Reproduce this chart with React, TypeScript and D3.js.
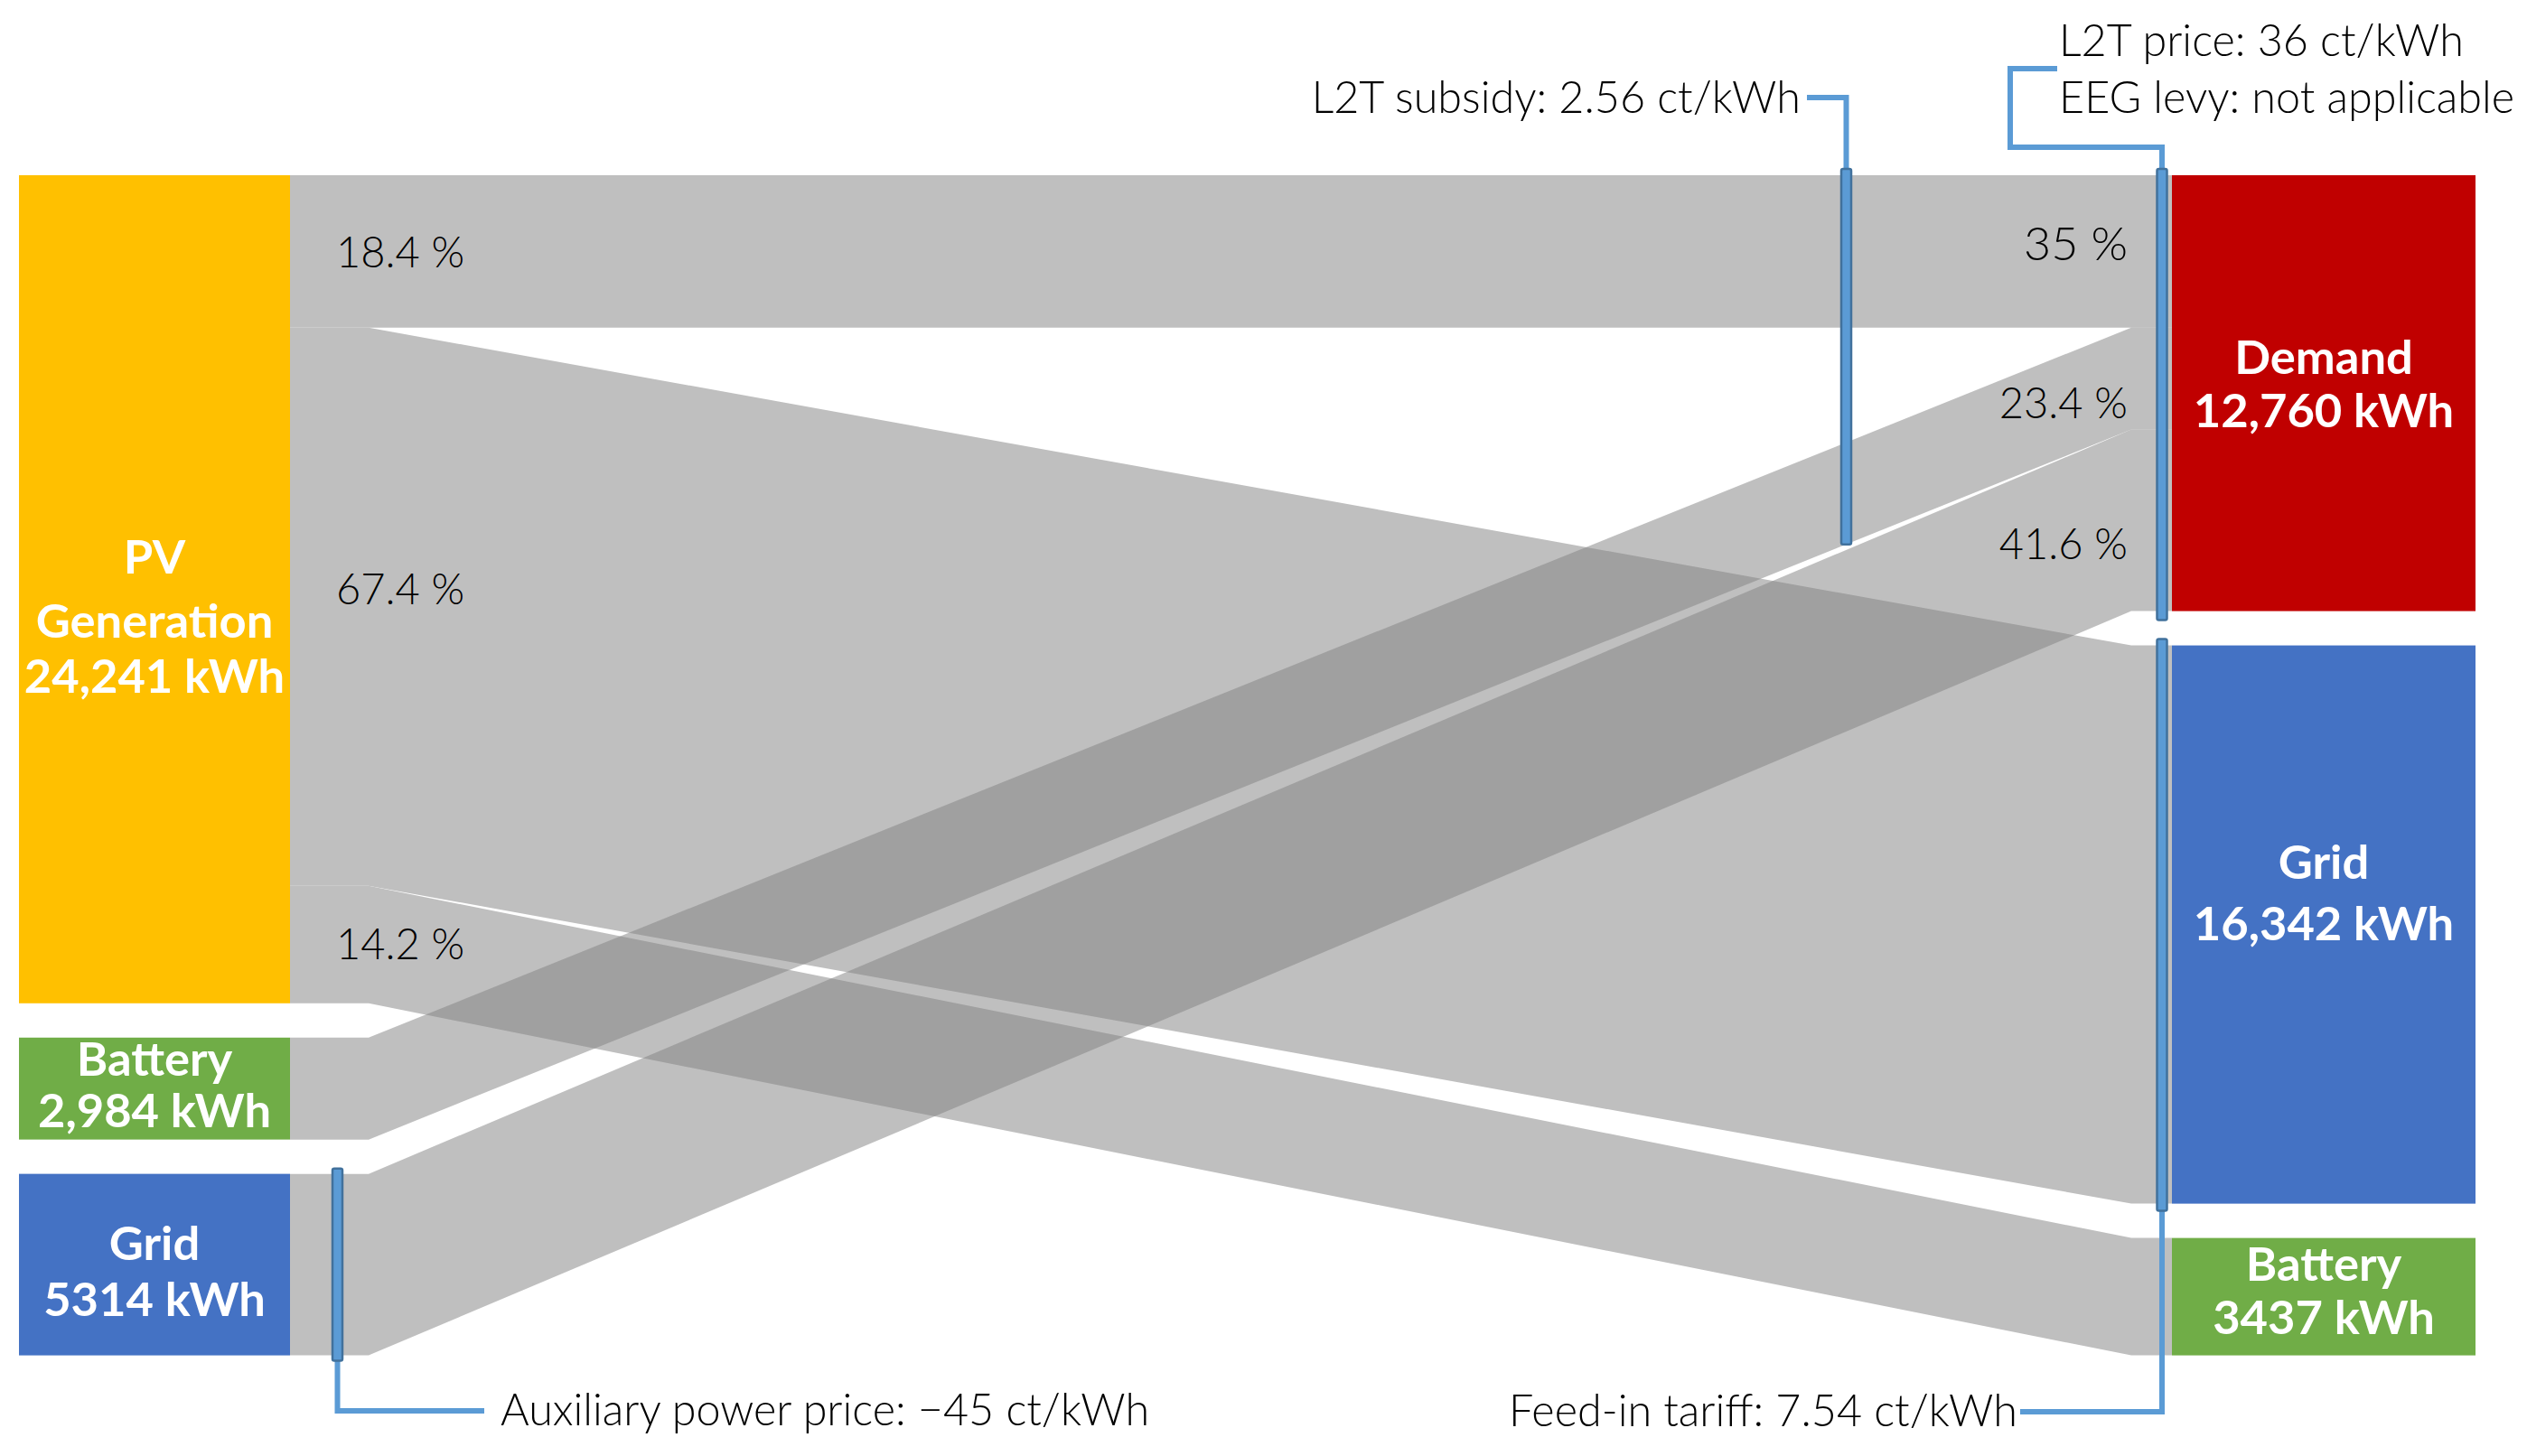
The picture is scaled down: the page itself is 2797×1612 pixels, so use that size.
import React from "react";
import * as d3 from "d3";

// ---------- data ----------
const leftNodes = ["PV", "BatteryOut", "GridOut"];
const leftLabels = [["PV", "Generation", "24,241 kWh"], ["Battery", "2,984 kWh"], ["Grid", "5314 kWh"]];
const leftValues = [24241, 2984, 5314];
const leftColors = ["#FFC000", "#70AD47", "#4472C4"];

const rightNodes = ["Demand", "GridIn", "BatteryIn"];
const rightLabels = [["Demand", "12,760 kWh"], ["Grid", "16,342 kWh"], ["Battery", "3437 kWh"]];
const rightValues = [12760, 16342, 3437];
const rightColors = ["#C00000", "#4472C4", "#70AD47"];

// flows: source, target, value (order matters for stacking)
const flowSources = ["PV", "PV", "PV", "BatteryOut", "GridOut"];
const flowTargets = ["Demand", "GridIn", "BatteryIn", "Demand", "Demand"];
const flowValues = [4462, 16342, 3437, 2984, 5314];
const targetOrder = { Demand: ["PV", "BatteryOut", "GridOut"], GridIn: ["PV"], BatteryIn: ["PV"] };

const leftPctLabels = ["18.4 %", "67.4 %", "14.2 %"];
const rightPctLabels = ["35 %", "23.4 %", "41.6 %"];

// ---------- layout ----------
const W = 2797, H = 1612;
const TOP = 194, GAP = 38;
const LX0 = 21, LX1 = 321;
const RX0 = 2404, RX1 = 2740;
const FX1 = 408, FX2 = 2359;
const BLUE = "#5B9BD5", BLUE_DARK = "#41719C";
const LINE_W = 6;
const annFont = "Lato, 'Carlito', Calibri, sans-serif";

const total = d3.sum(leftValues);
const totalH = 1306.6 - 2 * GAP;
const y = d3.scaleLinear().domain([0, total]).range([0, totalH]);

function stackNodes(names: string[], values: number[]) {
  const out: Record<string, { y0: number; y1: number }> = {};
  let cur = TOP;
  names.forEach((n, i) => {
    const h = y(values[i]);
    out[n] = { y0: cur, y1: cur + h };
    cur += h + GAP;
  });
  return out;
}

export default function App() {
  const L = stackNodes(leftNodes, leftValues);
  const R = stackNodes(rightNodes, rightValues);

  const srcOff: Record<string, number> = {};
  leftNodes.forEach((n) => (srcOff[n] = L[n].y0));

  const flows = flowValues.map((v, i) => {
    const s = flowSources[i];
    const h = y(v);
    const sy0 = srcOff[s];
    srcOff[s] += h;
    return { s, t: flowTargets[i], v, h, sy0, ty0: 0 };
  });
  Object.entries(targetOrder).forEach(([t, order]) => {
    let cur = R[t].y0;
    order.forEach((s) => {
      const f = flows.find((ff) => ff.s === s && ff.t === t)!;
      f.ty0 = cur;
      cur += f.h;
    });
  });

  const line = d3.line<[number, number]>().curve(d3.curveLinear);
  const flowPath = (f: any) =>
    line([
      [LX1, f.sy0], [FX1, f.sy0], [FX2, f.ty0], [RX0, f.ty0],
      [RX0, f.ty0 + f.h], [FX2, f.ty0 + f.h], [FX1, f.sy0 + f.h], [LX1, f.sy0 + f.h],
    ]) + "Z";

  const yAt = (f: any, x: number, edge: "top" | "bot") => {
    const t = (x - FX1) / (FX2 - FX1);
    const a = edge === "top" ? f.sy0 : f.sy0 + f.h;
    const b = edge === "top" ? f.ty0 : f.ty0 + f.h;
    return a + (b - a) * t;
  };

  const pvFlows = flows.filter((f) => f.s === "PV");
  const otherFlows = flows.filter((f) => f.s !== "PV");

  const barW = 11;
  const leftBarX = 373.5;
  const subBarX = 2043.5;
  const rightBarX = 2393;
  const batDem = flows.find((f) => f.s === "BatteryOut")!;
  const subBot = yAt(batDem, subBarX, "bot");

  const bar = (cx: number, y0: number, y1: number, key: string) => (
    <rect key={key} x={cx - barW / 2} y={y0} width={barW} height={y1 - y0} rx={2}
      fill={BLUE} stroke={BLUE_DARK} strokeWidth={2.5} />
  );

  const pctStyle = { fontFamily: annFont, fontWeight: 300, fontSize: 47, fill: "#000" } as const;
  const annStyle = { fontFamily: annFont, fontWeight: 300, fontSize: 48.5, fill: "#000" } as const;
  const nodeStyle = { fontFamily: annFont, fontWeight: 700, fontSize: 52.5, fill: "#fff" } as const;

  const leftPctDy = [18, -3, 16];
  const rightPctDy = [10, 44, 43];
  const rightPctSize = [52, 47, 47];
  const leftLabelBase = [[635, 706, 767], [1191, 1248], [1395, 1457]];
  const rightLabelBase = [[414, 473], [973, 1041], [1418, 1477]];

  return (
    <svg width={W} height={H} style={{ position: "absolute", left: 0, top: 0, background: "#fff" }}>
      {pvFlows.map((f, i) => (
        <path key={"pf" + i} d={flowPath(f)} fill="#BFBFBF" />
      ))}
      {otherFlows.map((f, i) => (
        <path key={"of" + i} d={flowPath(f)} fill="rgb(131,131,131)" fillOpacity={0.516} />
      ))}

      {leftNodes.map((n, i) => (
        <rect key={"ln" + n} x={LX0} y={L[n].y0} width={LX1 - LX0} height={L[n].y1 - L[n].y0} fill={leftColors[i]} />
      ))}
      {rightNodes.map((n, i) => (
        <rect key={"rn" + n} x={RX0} y={R[n].y0} width={RX1 - RX0} height={R[n].y1 - R[n].y0} fill={rightColors[i]} />
      ))}

      {leftLabels.map((lines, i) => (
        <text key={"ll" + i} textAnchor="middle" style={nodeStyle}>
          {lines.map((t, j) => (
            <tspan key={j} x={(LX0 + LX1) / 2} y={leftLabelBase[i][j]}>{t}</tspan>
          ))}
        </text>
      ))}
      {rightLabels.map((lines, i) => (
        <text key={"rl" + i} textAnchor="middle" style={nodeStyle}>
          {lines.map((t, j) => (
            <tspan key={j} x={(RX0 + RX1) / 2} y={rightLabelBase[i][j]}>{t}</tspan>
          ))}
        </text>
      ))}

      {pvFlows.map((f, i) => (
        <text key={"lp" + i} x={372} y={f.sy0 + f.h / 2 + leftPctDy[i]} style={pctStyle}>{leftPctLabels[i]}</text>
      ))}
      {targetOrder.Demand.map((s, i) => {
        const f = flows.find((ff) => ff.s === s && ff.t === "Demand")!;
        return (
          <text key={"rp" + i} x={2355} y={f.ty0 + f.h / 2 + rightPctDy[i]} textAnchor="end"
            style={{ ...pctStyle, fontSize: rightPctSize[i] }}>
            {rightPctLabels[i]}
          </text>
        );
      })}

      <g fill="none" stroke={BLUE} strokeWidth={LINE_W} strokeLinejoin="miter">
        <polyline points={`${leftBarX},${L.GridOut.y1 + 6} ${leftBarX},1562 536,1562`} />
        <polyline points={`${subBarX},${TOP - 7} ${subBarX},108 2000,108`} />
        <polyline points={`${rightBarX},${TOP - 7} ${rightBarX},163 2225,163 2225,76 2277,76`} />
        <polyline points={`${rightBarX},${R.GridIn.y1 + 8} ${rightBarX},1563 2236,1563`} />
      </g>

      {bar(leftBarX, L.GridOut.y0 - 6, L.GridOut.y1 + 6, "b1")}
      {bar(subBarX, TOP - 7, subBot, "b2")}
      {bar(rightBarX, R.Demand.y0 - 7, R.Demand.y1 + 10, "b3")}
      {bar(rightBarX, R.GridIn.y0 - 7, R.GridIn.y1 + 8, "b4")}

      <text x={554} y={1578} style={annStyle}>Auxiliary power price: −45 ct/kWh</text>
      <text x={1993} y={125} textAnchor="end" style={annStyle}>L2T subsidy: 2.56 ct/kWh</text>
      <text x={2279} y={62} style={annStyle}>L2T price: 36 ct/kWh</text>
      <text x={2279} y={125} style={annStyle}>EEG levy: not applicable</text>
      <text x={2233} y={1579} textAnchor="end" style={annStyle}>Feed-in tariff: 7.54 ct/kWh</text>
    </svg>
  );
}
